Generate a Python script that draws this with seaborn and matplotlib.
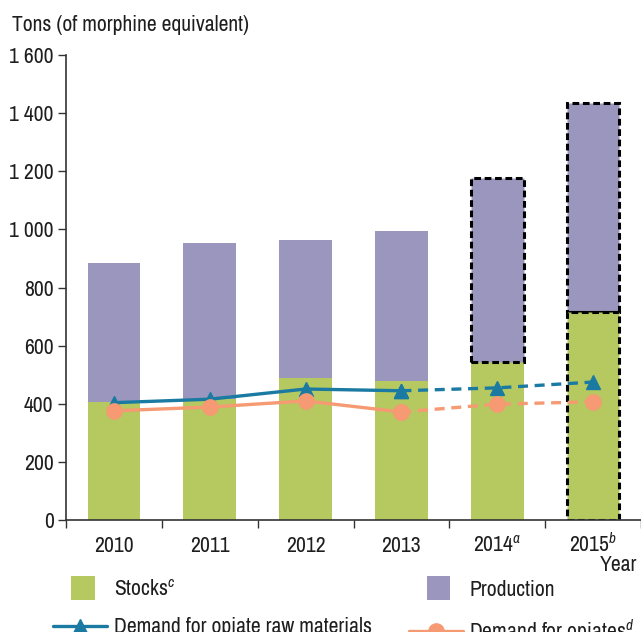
import matplotlib
matplotlib.use("Agg")
import matplotlib.pyplot as plt
import seaborn as sns
import pandas as pd
from matplotlib.patches import Rectangle, Patch
from matplotlib.lines import Line2D
from matplotlib.legend_handler import HandlerPatch
from matplotlib.ticker import FuncFormatter

# Data (tons of morphine equivalent)
years = ["2010", "2011", "2012", "2013", "2014$^{a}$", "2015$^{b}$"]
stocks = [406, 415, 489, 478, 544, 716]
totals = [884, 953, 963, 994, 1177, 1435]
demand_raw = [404, 416, 451, 445, 455, 475]
demand_opiates = [376, 389, 410, 372, 399, 407]

GREEN = "#b5c960"
PURPLE = "#9b96bd"
BLUE = "#1a7aa2"
ORANGE = "#f59a72"
TEXT = "#1e1e1e"

sns.set_style("white")
plt.rcParams["font.family"] = ["Archivo Narrow", "DejaVu Sans"]
plt.rcParams["mathtext.fontset"] = "custom"
plt.rcParams["mathtext.rm"] = "Archivo Narrow"
plt.rcParams["mathtext.it"] = "Archivo Narrow:italic"
FS = 15.6

df = pd.DataFrame({"year": years, "stocks": stocks, "total": totals})

fig = plt.figure(figsize=(6.41, 6.32), dpi=100)
ax = fig.add_axes([0.103, 0.177, 0.897, 0.736])

# production (drawn full height, then trimmed to sit on top of stocks)
sns.barplot(data=df, x="year", y="total", color=PURPLE, width=0.55,
            saturation=1, linewidth=0, ax=ax, zorder=1)
prod_bars = list(ax.patches)
sns.barplot(data=df, x="year", y="stocks", color=GREEN, width=0.55,
            saturation=1, linewidth=0, ax=ax, zorder=1)
stock_bars = list(ax.patches)[len(prod_bars):]

for bar, s, t in zip(prod_bars, stocks, totals):
    bar.set_y(s)
    bar.set_height(t - s)

# dashed outlines for estimates
dashed = dict(edgecolor="black", linestyle=(0, (2.2, 1.2)), linewidth=2.2,
              zorder=2)
prod_bars[4].set(**dashed)
prod_bars[5].set(**dashed)
stock_bars[5].set(**dashed)

idx = list(range(len(years)))
for vals, color, marker, ms in [(demand_raw, BLUE, "^", 10),
                                (demand_opiates, ORANGE, "o", 11)]:
    ax.plot(idx[:4], vals[:4], color=color, lw=2.4, marker=marker, ms=ms,
            zorder=4)
    ax.plot(idx[3:], vals[3:], color=color, lw=2.4, ls=(0, (3, 2)),
            marker=marker, ms=ms, zorder=4)

ax.set_ylim(0, 1600)
ax.set_xlim(-0.5, 5.5)
ax.set_yticks(range(0, 1601, 200))
ax.yaxis.set_major_formatter(
    FuncFormatter(lambda v, p: f"{int(v):,}".replace(",", " ")))
ax.set_xticks(idx)
ax.set_xticklabels(years)
ax.set_xticks([i - 0.5 for i in range(len(years) + 1)], minor=True)
ax.tick_params(axis="x", which="major", length=0, pad=23, labelsize=FS,
               labelcolor=TEXT)
for lbl in ax.get_xticklabels():
    lbl.set_verticalalignment("baseline")
ax.tick_params(axis="x", which="minor", length=6, width=1, direction="out",
               bottom=True, color="#333333")
ax.tick_params(axis="y", length=6, width=1, direction="out", left=True,
               labelsize=FS, pad=3, color="#333333", labelcolor=TEXT)
ax.set_xlabel("")
ax.set_ylabel("")
sns.despine(ax=ax)
for side in ["left", "bottom"]:
    ax.spines[side].set_color("#333333")
    ax.spines[side].set_linewidth(1.2)

fig.text(12 / 641, 1 - 25 / 632, "Tons (of morphine equivalent)",
         fontsize=FS, va="center", ha="left", color=TEXT)
fig.text(637 / 641, 1 - 565 / 632, "Year", fontsize=FS, va="center",
         ha="right", color=TEXT)


class SquareHandler(HandlerPatch):
    def create_artists(self, legend, orig, xd, yd, width, height, fontsize,
                       trans):
        side = height * 1.55
        r = Rectangle((xd + width / 2 - side / 2 + 2, yd + height / 2 - side / 2),
                      side, side, facecolor=orig.get_facecolor(),
                      edgecolor="none", transform=trans)
        return [r]


h_stock = Patch(facecolor=GREEN, label="Stocks$^{c}$")
h_prod = Patch(facecolor=PURPLE, label="Production")
h_raw = Line2D([], [], color=BLUE, lw=2.4, marker="^", ms=10,
               label="Demand for opiate raw materials")
h_opi = Line2D([], [], color=ORANGE, lw=2.4, marker="o", ms=11,
               label="Demand for opiates$^{d}$")

leg = fig.legend(handles=[h_stock, h_raw, h_prod, h_opi], ncol=2,
                 loc="upper left", bbox_to_anchor=(53 / 641, 1 - 579 / 632),
                 frameon=False, fontsize=FS, handlelength=2.5,
                 handletextpad=0.3, columnspacing=1.7, labelspacing=0.8,
                 borderaxespad=0, borderpad=0,
                 handler_map={Patch: SquareHandler()})
for t in leg.get_texts():
    t.set_color(TEXT)

fig.savefig("out.png", dpi=100)
